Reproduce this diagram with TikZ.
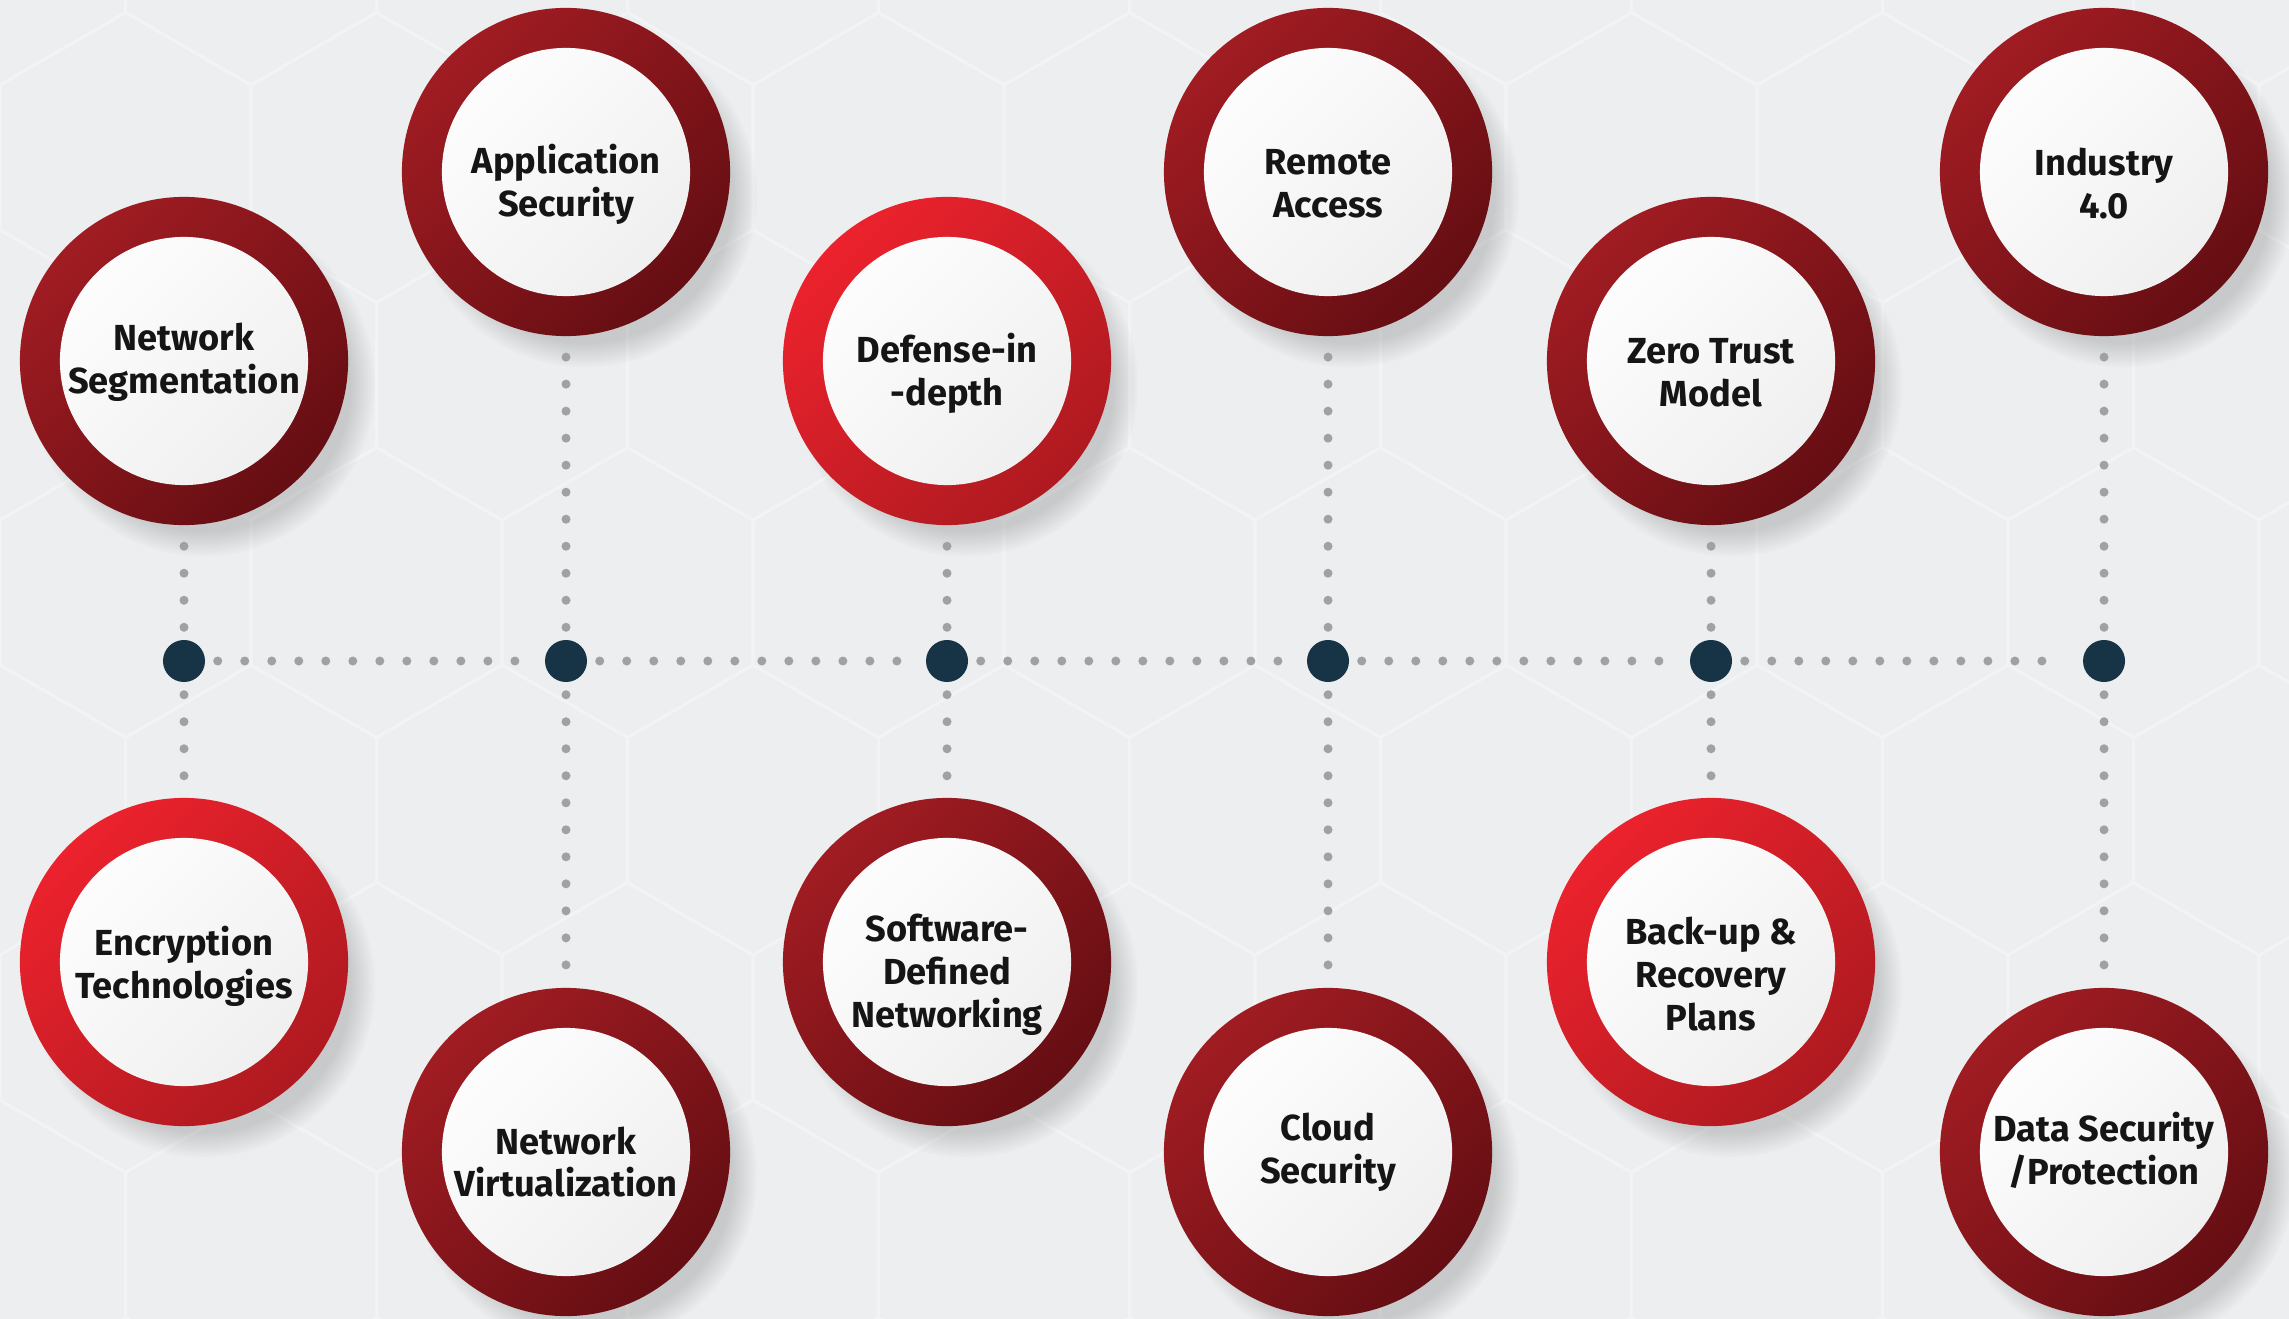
\documentclass[tikz,border=0pt]{standalone}
\usepackage{fontspec}
\setmainfont{Fira Sans}
\usetikzlibrary{shadows}
\definecolor{bg}{HTML}{ECEEEF}
\definecolor{hexline}{HTML}{F2F3F4}
\definecolor{darkA}{HTML}{A01C22}
\definecolor{darkB}{HTML}{650E13}
\definecolor{brightA}{HTML}{EC222D}
\definecolor{brightB}{HTML}{AE1A20}
\definecolor{hub}{HTML}{173447}
\definecolor{dotgray}{HTML}{9EA2A6}
\definecolor{label}{HTML}{151515}

\begin{document}
\begin{tikzpicture}[x=0.01cm, y=-0.01cm,
        topic/.style={circle, minimum size=3.28cm, inner sep=0pt,
            circular drop shadow={shadow xshift=0.18cm, shadow yshift=-0.22cm, shadow scale=1.05, opacity=0.33},
            path picture={\shade[top color=white, bottom color=black!7, shading angle=45]
                (path picture bounding box.center) circle (1.24cm);}},
        darktopic/.style={topic, top color=darkA, bottom color=darkB, shading angle=45},
        brighttopic/.style={topic, top color=brightA, bottom color=brightB, shading angle=45},
        topictext/.style={align=center, inner sep=0pt, text=label,
            font=\bfseries\fontsize{10.3}{12.2}\selectfont},
        hubdot/.style={circle, fill=hub, minimum size=0.42cm, inner sep=0pt},
        dotline/.style={draw=dotgray, line width=0.09cm, line cap=round,
            dash pattern=on 0pt off 0.27cm, shorten <=0.12cm, shorten >=0.2cm},
        hexgrid/.style={draw=hexline, line width=0.03cm}]
    \useasboundingbox (0,0) rectangle (2289,1319);
    \fill[bg] (0,0) rectangle (2289,1319);
    % faint hexagons behind
    \begin{scope}
        \clip (0,0) rectangle (2289,1319);
        \foreach \r in {0,...,7}
            \foreach \c in {-1,...,9} {
                \pgfmathsetmacro\cx{\c*251 + mod(\r,2)*125.5}
                \pgfmathsetmacro\cy{\r*217.5 - 60}
                \draw[hexgrid] (\cx,\cy) +(30:145) -- +(90:145) -- +(150:145)
                    -- +(210:145) -- +(270:145) -- +(330:145) -- cycle;
            }
    \end{scope}

    \node[darktopic]   (seg)       at (184,361)  {};
    \node[darktopic]   (appsec)    at (566,172)  {};
    \node[brighttopic] (defense)   at (947,361)  {};
    \node[darktopic]   (remote)    at (1328,172) {};
    \node[darktopic]   (zerotrust) at (1711,361) {};
    \node[darktopic]   (industry)  at (2104,172) {};
    \node[brighttopic] (encrypt)   at (184,962)  {};
    \node[darktopic]   (netvirt)   at (566,1152) {};
    \node[darktopic]   (sdn)       at (947,962)  {};
    \node[darktopic]   (cloud)     at (1328,1152) {};
    \node[brighttopic] (backup)    at (1711,962) {};
    \node[darktopic]   (datasec)   at (2104,1152) {};

    \node[topictext] (seg-t)       at ([yshift=-0.01cm]seg)       {Network\\Segmentation};
    \node[topictext] (appsec-t)    at ([yshift=-0.12cm]appsec)    {Application\\Security};
    \node[topictext] (defense-t)   at ([yshift=-0.12cm]defense)   {Defense-in\\-depth};
    \node[topictext] (remote-t)    at ([yshift=-0.12cm]remote)    {Remote\\Access};
    \node[topictext] (zerotrust-t) at ([yshift=-0.12cm]zerotrust) {Zero Trust\\Model};
    \node[topictext] (industry-t)  at ([yshift=-0.12cm]industry)  {Industry\\4.0};
    \node[topictext] (encrypt-t)   at ([yshift=-0.04cm]encrypt)   {Encryption\\Technologies};
    \node[topictext] (netvirt-t)   at ([yshift=-0.1cm]netvirt)    {Network\\Virtualization};
    \node[topictext] (sdn-t)       at ([yshift=-0.13cm]sdn)       {Software-\\Defined\\Networking};
    \node[topictext] (cloud-t)     at (cloud)                     {Cloud\\Security};
    \node[topictext] (backup-t)    at ([yshift=-0.12cm]backup)    {Back-up \&\\Recovery\\Plans};
    \node[topictext] (datasec-t)   at ([yshift=0.02cm]datasec)    {Data Security\\/Protection};

    \node[hubdot] (d1) at (184,661) {};
    \node[hubdot] (d2) at (566,661) {};
    \node[hubdot] (d3) at (947,661) {};
    \node[hubdot] (d4) at (1328,661) {};
    \node[hubdot] (d5) at (1711,661) {};
    \node[hubdot] (d6) at (2104,661) {};

    \draw[dotline] (d1) -- (d2);
    \draw[dotline] (d2) -- (d3);
    \draw[dotline] (d3) -- (d4);
    \draw[dotline] (d4) -- (d5);
    \draw[dotline] (d5) -- (d6);

    \draw[dotline] (d1) -- (seg);
    \draw[dotline] (d2) -- (appsec);
    \draw[dotline] (d3) -- (defense);
    \draw[dotline] (d4) -- (remote);
    \draw[dotline] (d5) -- (zerotrust);
    \draw[dotline] (d6) -- (industry);
    \draw[dotline] (d1) -- (encrypt);
    \draw[dotline] (d2) -- (netvirt);
    \draw[dotline] (d3) -- (sdn);
    \draw[dotline] (d4) -- (cloud);
    \draw[dotline] (d5) -- (backup);
    \draw[dotline] (d6) -- (datasec);
\end{tikzpicture}
\end{document}
